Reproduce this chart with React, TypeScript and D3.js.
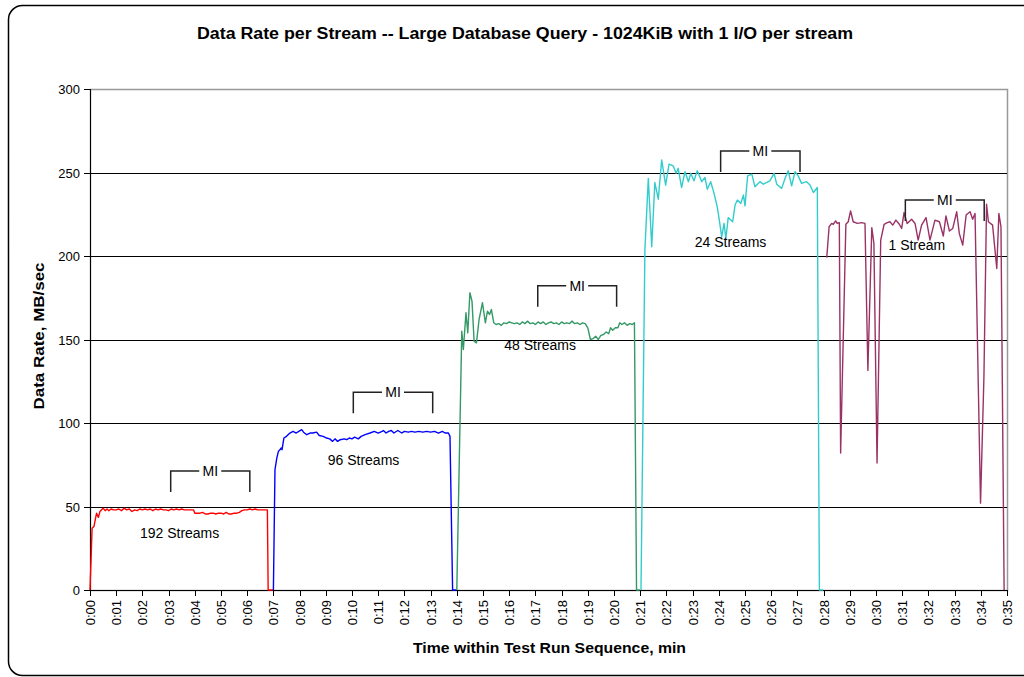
import React from "react";
import * as d3 from "d3";

const titleText = "Data Rate per Stream -- Large Database Query - 1024KiB with 1 I/O per stream";
const yTitle = "Data Rate, MB/sec";
const xTitle = "Time within Test Run Sequence, min";

const yTicks = [0, 50, 100, 150, 200, 250, 300];
const xTickValues = [0,1,2,3,4,5,6,7,8,9,10,11,12,13,14,15,16,17,18,19,20,21,22,23,24,25,26,27,28,29,30,31,32,33,34,35];
const xTickLabels = ["0:00","0:01","0:02","0:03","0:04","0:05","0:06","0:07","0:08","0:09","0:10","0:11","0:12","0:13","0:14","0:15","0:16","0:17","0:18","0:19","0:20","0:21","0:22","0:23","0:24","0:25","0:26","0:27","0:28","0:29","0:30","0:31","0:32","0:33","0:34","0:35"];

// [minutes, MB/sec]
const red192: [number, number][] = [
  [0,0],[0.08,37],[0.15,38],[0.25,46],[0.32,43.5],[0.38,47],[0.5,49],[0.58,47.5],[0.65,48.5],[0.72,47.5],
  [0.8,48.5],[0.9,48],[1.0,48],[1.1,48.5],[1.2,47.5],[1.3,49],[1.4,48],[1.5,48.5],[1.6,47],[1.7,48],
  [1.8,47.5],[1.9,48.5],[2.0,48],[2.1,48.5],[2.2,48],[2.3,48.5],[2.4,47.5],[2.5,48.5],[2.6,48],[2.7,48.5],
  [2.8,48],[2.9,48],[3.0,47.5],[3.1,48.5],[3.2,48],[3.3,48.5],[3.4,48],[3.5,48.5],[3.6,48],[3.7,48],
  [3.8,48],[3.95,48],[4.0,46],[4.1,46],[4.2,46],[4.3,46.5],[4.4,45.5],[4.5,45.5],[4.6,46],[4.7,46],
  [4.8,45.5],[4.9,46],[5.0,46],[5.1,45.5],[5.2,46.5],[5.3,45.5],[5.4,45.5],[5.5,46],[5.6,46],[5.7,46.5],
  [5.8,47.5],[5.9,48],[6.0,48],[6.1,48.5],[6.2,48],[6.3,48.5],[6.4,48],[6.5,48],[6.6,48],[6.7,48],
  [6.77,48],[6.8,0],[6.98,0]
];

const blue96: [number, number][] = [
  [7.0,0],[7.06,72],[7.13,79],[7.19,83],[7.25,84],[7.3,85],[7.33,84],[7.4,91],[7.5,92],[7.63,94],
  [7.75,95],[7.87,94],[7.97,95],[8.08,96],[8.15,94.5],[8.27,93],[8.4,94],[8.5,94],[8.65,94.5],[8.75,92.5],
  [8.9,92],[9.03,91],[9.15,90.5],[9.26,89],[9.35,90.5],[9.45,89],[9.55,90],[9.7,90.5],[9.8,90],[9.9,91],
  [10.0,90.5],[10.1,91.5],[10.24,90.5],[10.35,92],[10.5,93],[10.69,94],[10.85,95],[11.0,94],[11.15,95],[11.2,95.5],
  [11.3,94],[11.4,95],[11.5,95.5],[11.6,94],[11.75,95.5],[11.9,94],[12.0,95],[12.15,94.5],[12.27,95],[12.4,94.5],
  [12.55,95],[12.7,94.5],[12.85,95],[13.0,94.5],[13.15,95],[13.3,94],[13.45,95],[13.55,94],[13.68,94],[13.74,92],
  [13.84,0],[13.98,0]
];

const green48: [number, number][] = [
  [14.0,0],[14.19,155],[14.25,144],[14.35,166],[14.42,154],[14.5,178],[14.58,173],[14.66,149],[14.75,148],[14.85,162],
  [14.98,172],[15.09,160],[15.17,167],[15.25,165],[15.32,168],[15.41,160],[15.5,159],[15.6,159.5],[15.7,158.5],[15.8,160],
  [15.9,159.5],[16.0,160.5],[16.1,160],[16.2,159.5],[16.3,160],[16.4,159],[16.5,160.5],[16.6,159.5],[16.7,161],[16.8,159.5],
  [16.9,160],[17.0,159],[17.1,160.5],[17.2,159.5],[17.3,160.5],[17.4,159],[17.5,160],[17.6,160.5],[17.7,159.5],[17.8,160],
  [17.9,159],[18.0,160.5],[18.1,159.5],[18.2,160],[18.3,159.5],[18.4,161],[18.5,159.5],[18.6,160],[18.7,159],[18.8,160],
  [18.9,159.5],[19.0,157],[19.1,150],[19.2,150.5],[19.3,152],[19.4,150],[19.5,152.5],[19.6,153],[19.7,154.5],[19.8,153.5],
  [19.87,157],[19.95,155.5],[20.05,157],[20.15,157],[20.22,160],[20.3,159],[20.4,160],[20.5,158.5],[20.6,159.5],[20.7,159],
  [20.78,160],[20.86,0],[20.98,0]
];

const cyan24: [number, number][] = [
  [21.03,0],[21.18,204],[21.31,246.5],[21.44,205.5],[21.56,244],[21.69,234],[21.82,257.5],[21.97,242.5],[22.1,255],[22.26,254],
  [22.37,249.5],[22.45,252.5],[22.58,241],[22.71,250.5],[22.84,244.5],[22.93,249.5],[23.05,245],[23.18,251],[23.35,244.5],[23.47,247],
  [23.56,240],[23.69,244.5],[23.82,237.5],[23.94,229.5],[24.02,221.5],[24.11,211.5],[24.2,219.5],[24.27,210.5],[24.36,223],[24.53,220.5],
  [24.62,230.5],[24.71,233.5],[24.84,231.5],[24.94,236.5],[25.0,230],[25.1,248],[25.26,249],[25.38,241.5],[25.57,244.5],[25.7,243],
  [25.95,245],[26.11,249.5],[26.21,243],[26.4,240.5],[26.53,246.5],[26.65,251],[26.78,242],[26.91,250.5],[27.03,248],[27.16,243.5],
  [27.35,244.5],[27.48,242.5],[27.61,238],[27.76,241],[27.84,0],[27.98,0]
];

const plum1: [number, number][] = [
  [28.12,199],[28.21,217.5],[28.31,219.5],[28.37,219],[28.46,221],[28.52,219.5],[28.6,220],[28.65,82],[28.85,219],[28.94,220.5],
  [29.03,227],[29.13,220.5],[29.29,219.5],[29.45,220],[29.58,219.5],[29.69,131.5],[29.84,217],[29.92,207.5],[30.04,76],[30.18,209.5],
  [30.31,219],[30.43,220],[30.53,220.5],[30.64,218.5],[30.76,221.5],[30.89,219],[30.98,216.5],[31.07,226],[31.19,219.5],[31.36,222],
  [31.49,219.5],[31.61,209.5],[31.74,218.5],[31.91,223],[32.06,209.5],[32.25,221.5],[32.42,220.5],[32.57,212],[32.67,224],[32.8,215],
  [32.93,216.5],[33.08,226.5],[33.18,213.5],[33.31,206.5],[33.44,224.5],[33.59,226.5],[33.69,222],[33.78,225.5],[33.99,52],[34.12,128],
  [34.22,231],[34.29,220.5],[34.45,218.5],[34.61,192.5],[34.69,225.5],[34.77,217.5],[34.89,0]
];

const seriesData = [red192, blue96, green48, cyan24, plum1];
const seriesColors = ["#FF0000", "#0000FF", "#339966", "#33CCCC", "#993366"];

const streamLabels = ["192 Streams", "96 Streams", "48 Streams", "24 Streams", "1 Stream"];
const labelTime = [3.42, 10.44, 17.18, 24.45, 31.56];
const labelRate = [31, 75, 143.7, 205.4, 203.6];

const miStart = [3.08, 10.05, 17.09, 24.07, 31.12];
const miEnd = [6.1, 13.08, 20.1, 27.1, 34.13];
const miTop = [71.3, 118.4, 182.2, 262.9, 233.5];

const FONT = "'Liberation Sans', Arial, Helvetica, sans-serif";

export default function App() {
  const W = 1024, H = 677;
  const x = d3.scaleLinear().domain([0, 35]).range([90, 1007]);
  const y = d3.scaleLinear().domain([0, 300]).range([590, 89]);
  const line = d3.line<[number, number]>().x(d => x(d[0])).y(d => y(d[1]));
  const crisp = (v: number) => Math.round(v) + 0.5;
  const tickDepth = 21;
  const gap = 11;

  return (
    <svg width={W} height={H} style={{ position: "absolute", left: 0, top: 0, background: "#fff" }} fontFamily={FONT}>
      <rect x={8.5} y={5.5} width={1030} height={670} rx={14} ry={14} fill="#fff" stroke="#000" strokeWidth={1.5} />
      <text x={525} y={39} textAnchor="middle" fontSize={16} fontWeight="bold" textLength={656} lengthAdjust="spacingAndGlyphs">{titleText}</text>

      {/* plot border */}
      <rect x={crisp(x(0))} y={crisp(y(300))} width={Math.round(x(35) - x(0))} height={Math.round(y(0) - y(300))} fill="none" stroke="#999" strokeWidth={1.5} />
      {yTicks.filter(t => t > 0 && t < 300).map(t => (
        <line key={"g" + t} x1={x(0)} x2={x(35)} y1={crisp(y(t))} y2={crisp(y(t))} stroke="#000" strokeWidth={1} />
      ))}
      {/* axes */}
      <line x1={crisp(x(0))} x2={crisp(x(0))} y1={y(300)} y2={y(0)} stroke="#000" />
      <line x1={x(0)} x2={x(35)} y1={crisp(y(0))} y2={crisp(y(0))} stroke="#000" />
      {yTicks.map(t => (
        <g key={"y" + t}>
          <line x1={x(0) - 6} x2={x(0)} y1={crisp(y(t))} y2={crisp(y(t))} stroke="#000" />
          <text x={x(0) - 10} y={y(t) + 5} textAnchor="end" fontSize={13}>{t}</text>
        </g>
      ))}
      {xTickValues.map((v, i) => (
        <g key={"x" + v}>
          <line x1={crisp(x(v))} x2={crisp(x(v))} y1={y(0)} y2={y(0) + 6} stroke="#000" />
          <text transform={`translate(${x(v) + 5},${y(0) + 10}) rotate(-90)`} textAnchor="end" fontSize={13}>{xTickLabels[i]}</text>
        </g>
      ))}

      {/* series */}
      {seriesData.map((d, i) => (
        <path key={"s" + i} d={line(d) || ""} fill="none" stroke={seriesColors[i]} strokeWidth={1.4} strokeLinejoin="round" />
      ))}

      {/* MI brackets */}
      {miStart.map((s, i) => {
        const x1 = x(s), x2 = x(miEnd[i]), yt = y(miTop[i]);
        const xm = (x1 + x2) / 2;
        return (
          <g key={"mi" + i}>
            <path d={`M${x1},${yt + tickDepth}V${yt}H${xm - gap}M${xm + gap},${yt}H${x2}V${yt + tickDepth}`} fill="none" stroke="#222" strokeWidth={1.5} />
            <text x={xm} y={yt + 5} textAnchor="middle" fontSize={14}>MI</text>
          </g>
        );
      })}

      {/* stream labels */}
      {streamLabels.map((s, i) => (
        <text key={"l" + i} x={x(labelTime[i])} y={y(labelRate[i])} textAnchor="middle" fontSize={14}>{s}</text>
      ))}

      <text transform={`translate(${44},${336}) rotate(-90)`} textAnchor="middle" fontSize={15.5} fontWeight="bold" textLength={147} lengthAdjust="spacingAndGlyphs">{yTitle}</text>
      <text x={549.5} y={653} textAnchor="middle" fontSize={15.5} fontWeight="bold" textLength={273} lengthAdjust="spacingAndGlyphs">{xTitle}</text>
    </svg>
  );
}
